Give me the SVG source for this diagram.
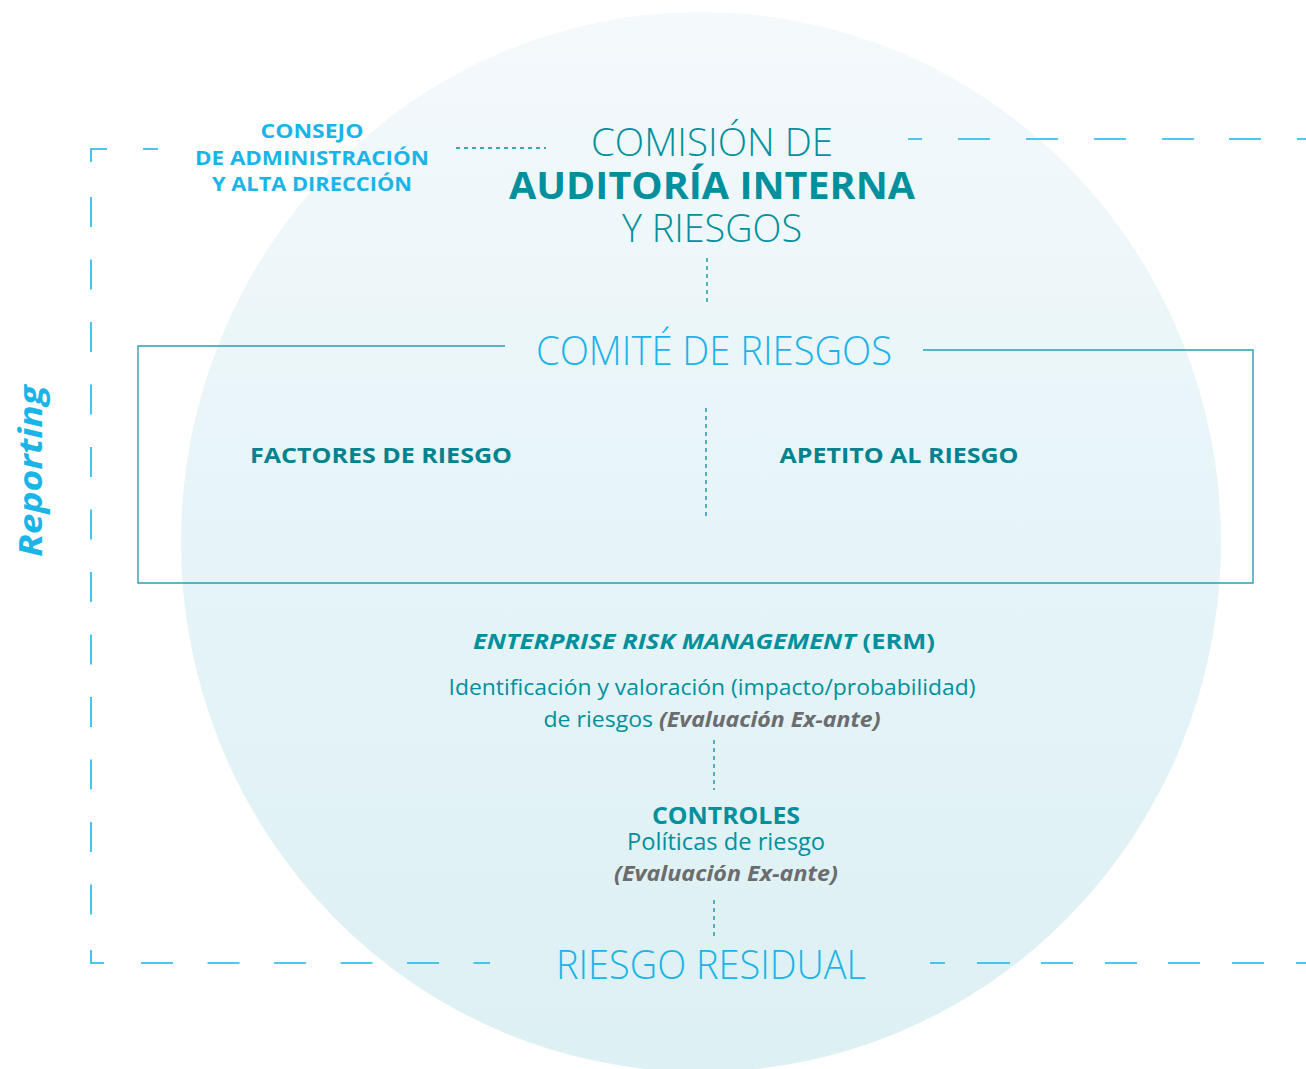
<svg xmlns="http://www.w3.org/2000/svg" width="1306" height="1069" viewBox="0 0 1306 1069">
<defs>
<linearGradient id="bg" x1="0" y1="0" x2="0" y2="1">
<stop offset="0" stop-color="#f4f9fc"/>
<stop offset="0.5" stop-color="#e6f4f8"/>
<stop offset="1" stop-color="#ddf0f3"/>
</linearGradient>
<style>
.cy{fill:#1ab4e8;font-family:"Open Sans","Liberation Sans",sans-serif}
.tl{fill:#00909d;font-family:"Open Sans","Liberation Sans",sans-serif}
.dk{fill:#00838f;font-family:"Open Sans","Liberation Sans",sans-serif}
.gr{fill:#6b6c6e;font-family:"Open Sans","Liberation Sans",sans-serif;font-weight:700;font-style:italic}
.b{font-weight:700}
.l{font-weight:300}
.dash{stroke:#1ab4e8;stroke-width:1.6;fill:none}
.dot{stroke:#00909d;stroke-width:1.3;fill:none;stroke-dasharray:4 4}
.box{stroke:#2a9fb2;stroke-width:1.4;fill:none}
</style>
</defs>
<rect width="1306" height="1069" fill="#ffffff"/>
<ellipse cx="701" cy="542" rx="520" ry="530" fill="url(#bg)"/>
<g id="connectors">
<path class="dash" d="M91 162 V149 H107"/>
<path class="dash" d="M143 149 H158"/>
<path class="dash" d="M91 197 V940" stroke-dasharray="30 32.5"/>
<path class="dash" d="M91 950 V963 H104"/>
<path class="dash" d="M141 963 H490" stroke-dasharray="32 34.5"/>
<path class="dash" d="M930 963 H945 M977 963 H1010 M1041 963 H1073 M1105 963 H1137 M1168 963 H1200 M1232 963 H1264 M1296 963 H1306"/>
<path class="dash" d="M908 139 H922 M958 139 H990 M1026 139 H1058 M1094 139 H1126 M1162 139 H1194 M1229 139 H1261 M1297 139 H1306"/>
<path class="dot" d="M456 148 H546"/>
<path class="dot" d="M707 258 V303"/>
<path class="dot" d="M706 408 V516"/>
<path class="dot" d="M714 740 V790"/>
<path class="dot" d="M714 900 V936"/>
<path class="box" d="M505 346 H138 V583 H1253 V350 H923"/>
</g>
<g id="consejo">
<text class="cy b" font-size="20" text-anchor="middle" x="312" y="138" textLength="103" lengthAdjust="spacingAndGlyphs">CONSEJO</text>
<text class="cy b" font-size="20" text-anchor="middle" x="312" y="165" textLength="234" lengthAdjust="spacingAndGlyphs">DE ADMINISTRACIÓN</text>
<text class="cy b" font-size="20" text-anchor="middle" x="312" y="191" textLength="200" lengthAdjust="spacingAndGlyphs">Y ALTA DIRECCIÓN</text>
</g>
<g id="comision">
<text class="tl l" font-size="38" text-anchor="middle" x="712" y="156" textLength="242" lengthAdjust="spacingAndGlyphs">COMISIÓN DE</text>
<text class="tl b" font-size="38" text-anchor="middle" x="712" y="199" textLength="406" lengthAdjust="spacingAndGlyphs">AUDITORÍA INTERNA</text>
<text class="tl l" font-size="38" text-anchor="middle" x="712" y="242" textLength="180" lengthAdjust="spacingAndGlyphs">Y RIESGOS</text>
</g>
<g id="comite">
<text class="cy l" font-size="40" text-anchor="middle" x="714" y="365" textLength="356" lengthAdjust="spacingAndGlyphs">COMITÉ DE RIESGOS</text>
</g>
<g id="factores">
<text class="dk b" font-size="22" text-anchor="middle" x="381" y="463" textLength="262" lengthAdjust="spacingAndGlyphs">FACTORES DE RIESGO</text>
</g>
<g id="apetito">
<text class="dk b" font-size="22" text-anchor="middle" x="899" y="463" textLength="239" lengthAdjust="spacingAndGlyphs">APETITO AL RIESGO</text>
</g>
<g id="erm">
<text class="tl b" font-size="22" text-anchor="middle" x="704" y="649" textLength="462" lengthAdjust="spacingAndGlyphs"><tspan font-style="italic">ENTERPRISE RISK MANAGEMENT</tspan> (ERM)</text>
<text class="tl" font-size="22" text-anchor="middle" x="712" y="695" textLength="527" lengthAdjust="spacingAndGlyphs">Identificación y valoración (impacto/probabilidad)</text>
<text class="tl" font-size="22" text-anchor="middle" x="712" y="727" textLength="337" lengthAdjust="spacingAndGlyphs">de riesgos <tspan class="gr">(Evaluación Ex-ante)</tspan></text>
</g>
<g id="controles">
<text class="tl b" font-size="24" text-anchor="middle" x="726" y="824" textLength="148" lengthAdjust="spacingAndGlyphs">CONTROLES</text>
<text class="tl" font-size="23" text-anchor="middle" x="726" y="850" textLength="198" lengthAdjust="spacingAndGlyphs">Políticas de riesgo</text>
<text class="gr" font-size="21" text-anchor="middle" x="726" y="881" textLength="224" lengthAdjust="spacingAndGlyphs">(Evaluación Ex-ante)</text>
</g>
<g id="residual">
<text class="cy l" font-size="40" text-anchor="middle" x="711" y="979" textLength="310" lengthAdjust="spacingAndGlyphs">RIESGO RESIDUAL</text>
</g>
<g id="reporting">
<text class="cy b" font-size="32" font-style="italic" text-anchor="middle" transform="translate(42 471) rotate(-90)" textLength="172" lengthAdjust="spacingAndGlyphs">Reporting</text>
</g>
</svg>
